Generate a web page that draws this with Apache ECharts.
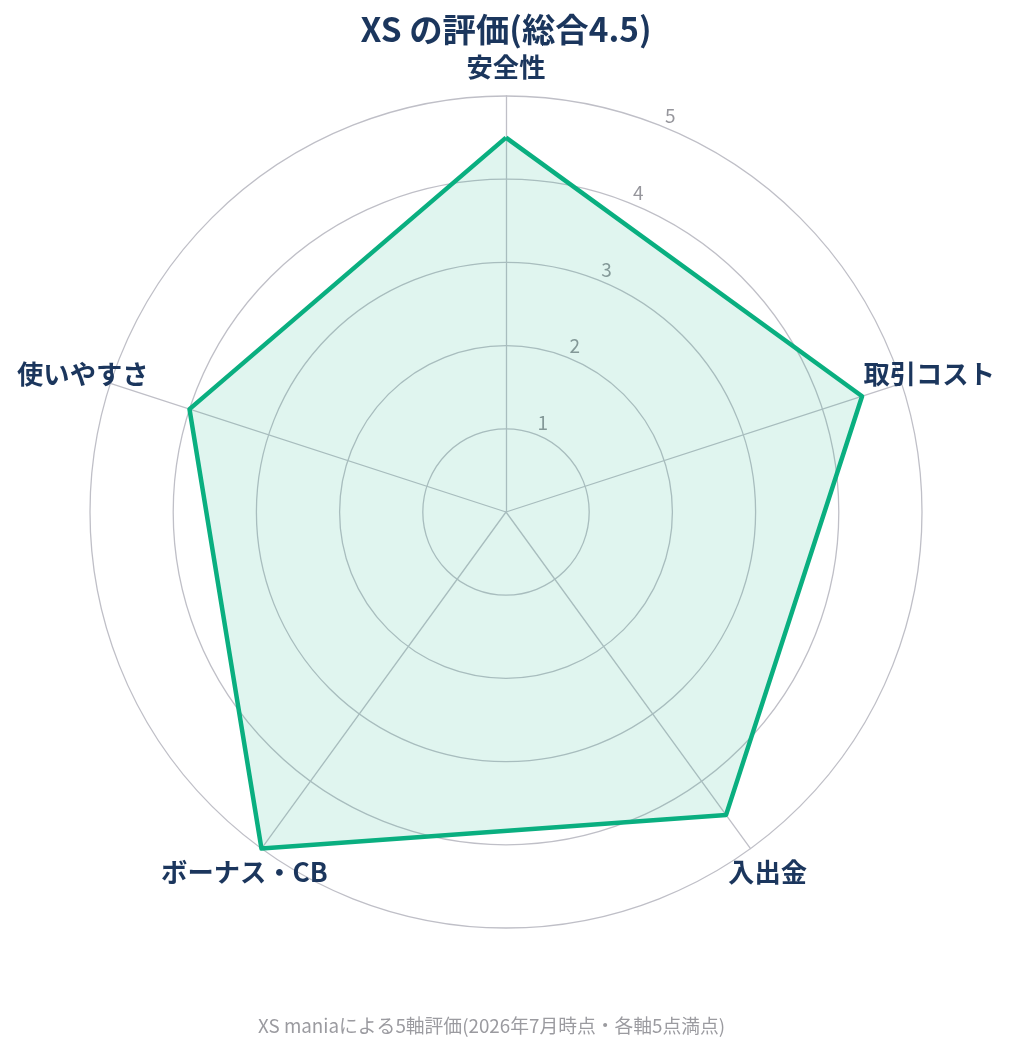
<!DOCTYPE html>
<html><head><meta charset="utf-8">
<script src="https://cdn.jsdelivr.net/npm/echarts@6/dist/echarts.min.js"></script>
<style>html,body{margin:0;padding:0;background:#fff}#c{width:1012px;height:1054px}</style>
</head><body><div id="c"></div>
<script>
// Data (clockwise from top)
const categories = ['安全性', '取引コスト', '入出金', 'ボーナス・CB', '使いやすさ'];
const scores = [4.5, 4.5, 4.5, 5, 4];
const maxScore = 5;
const tickLabels = ['1', '2', '3', '4', '5'];
const titleText = 'XS の評価(総合4.5)';
const footText = 'XS maniaによる5軸評価(2026年7月時点・各軸5点満点)';

// ECharts places radar indicators counterclockwise; reorder so display is clockwise
const order = [0].concat(categories.map((_, i) => i).slice(1).reverse());
const indicators = order.map(i => ({ name: categories[i], max: maxScore, min: 0 }));
const values = order.map(i => scores[i]);

const FONT = '"Noto Sans CJK JP", "Noto Sans", sans-serif';
const NAVY = '#1b365d';
const GRID = '#bfbfc7';
const GREEN = '#0aaf80';

const chart = echarts.init(document.getElementById('c'), null, { renderer: 'canvas' });
chart.setOption({
  animation: false,
  backgroundColor: '#fff',
  textStyle: { fontFamily: FONT },
  title: [
    { text: titleText, left: 'center', top: 13, padding: 0,
      textStyle: { fontFamily: FONT, fontSize: 33.4, fontWeight: 'bold', color: NAVY } },
    { text: footText, left: 258, top: 1016, padding: 0,
      textStyle: { fontFamily: FONT, fontSize: 18.8, fontWeight: 'normal', color: '#9b9ba0' } }
  ],
  radar: {
    center: [506, 512],
    radius: 416,
    startAngle: 90,
    shape: 'circle',
    splitNumber: 5,
    indicator: indicators,
    axisNameGap: 29,
    axisName: { color: NAVY, fontSize: 26.3, fontWeight: 'bold', fontFamily: FONT,
                align: 'center', verticalAlign: 'middle' },
    splitArea: { show: false },
    splitLine: { lineStyle: { color: GRID, width: 1.3 } },
    axisLine: { lineStyle: { color: GRID, width: 1.3 } },
    axisTick: { show: false },
    axisLabel: { show: false }
  },
  polar: { center: [506, 512], radius: 416 },
  angleAxis: { show: false, type: 'value', min: 0, max: 360, startAngle: 67.5 },
  radiusAxis: {
    type: 'value', min: 0, max: maxScore, interval: 1,
    axisLine: { show: false }, axisTick: { show: false }, splitLine: { show: false },
    axisLabel: {
      showMinLabel: false, margin: 0, align: 'center', verticalAlign: 'middle',
      fontSize: 19, color: '#96969c',
      formatter: v => '{t|' + (tickLabels[v - 1] || '') + '}',
      rich: {
        t: { color: '#96969c', fontSize: 19, fontFamily: FONT, padding: [0, 0, 24, 10] }
      }
    }
  },
  series: [{
    type: 'radar',
    symbol: 'none',
    lineStyle: { color: GREEN, width: 4.5 },
    areaStyle: { color: 'rgba(10,175,128,0.18)' },
    data: [{ value: values, name: 'XS' }]
  }]
});
</script></body></html>
